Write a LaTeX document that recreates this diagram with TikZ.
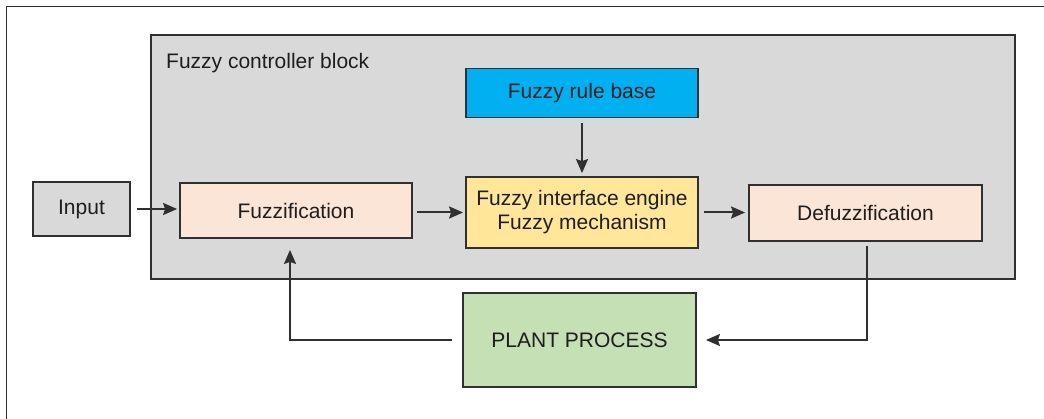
\documentclass[tikz,border=0pt]{standalone}
\usepackage{fontspec}
\setmainfont{Liberation Sans}
\usetikzlibrary{arrows.meta}
\definecolor{edge}{HTML}{303030}
\definecolor{txt}{HTML}{1E1E1E}
\definecolor{blockgray}{HTML}{D9D9D9}
\definecolor{peach}{HTML}{FBE5D6}
\definecolor{ruleblue}{HTML}{00B0F0}
\definecolor{engineyellow}{HTML}{FFE699}
\definecolor{plantgreen}{HTML}{C5E0B4}
\tikzset{
  box/.style={draw=edge, line width=1.8pt, text=txt, align=center, inner sep=0pt,
              font=\fontsize{21}{24}\selectfont},
  flow/.style={draw=edge, line width=2pt, -{Stealth[length=14pt,width=12pt,inset=2pt]}},
}
\begin{document}
\begin{tikzpicture}[x=1pt,y=-1pt]
  \useasboundingbox (0,0) rectangle (1044,419);
  % page frame (top and left edges)
  \draw[edge, line width=1.6pt] (6.5,419) -- (6.5,6.5) -- (1044,6.5);
  % controller block
  \node[box, fill=blockgray, anchor=north west, minimum width=864pt, minimum height=244pt] (block) at (150,34) {};
  \node[text=txt, font=\fontsize{21}{24}\selectfont, anchor=base west, inner sep=0pt] (title) at (166,69) {Fuzzy controller block};
  % blocks
  \node[box, fill=blockgray, minimum width=97pt, minimum height=54pt] (input) at (81.5,209) {Input};
  \node[box, fill=peach, minimum width=232pt, minimum height=55pt] (fuzz) at (296,210.5) {Fuzzification};
  \node[box, fill=ruleblue, minimum width=232pt, minimum height=49pt] (rule) at (582,93) {Fuzzy rule base};
  \node[box, fill=engineyellow, minimum width=232pt, minimum height=71pt] (engine) at (582,212.5) {Fuzzy interface engine\\Fuzzy mechanism};
  \node[box, fill=peach, minimum width=233pt, minimum height=56pt] (defuzz) at (865.5,213) {Defuzzification};
  \node[box, fill=plantgreen, minimum width=233pt, minimum height=94pt] (plant) at (579.5,340) {PLANT PROCESS};
  % connectors
  \draw[flow, shorten <=6pt, shorten >=2pt] (input.east) -- (input.east -| fuzz.west);
  \draw[flow, shorten <=4pt, shorten >=2pt] (fuzz.east |- engine.west) -- (engine.west);
  \draw[flow, shorten <=5pt, shorten >=3pt] (engine.east) -- (engine.east -| defuzz.west);
  \draw[flow, shorten <=5pt, shorten >=3pt] (rule.south) -- (engine.north);
  \coordinate (dout) at ([xshift=1.5pt]defuzz.south);
  \draw[flow, shorten <=4pt, shorten >=9pt] (dout) |- (plant.east);
  \coordinate (fin) at ([xshift=-6pt]fuzz.south);
  \draw[flow, shorten <=10pt, shorten >=11pt] (plant.west) -| (fin);
\end{tikzpicture}
\end{document}
